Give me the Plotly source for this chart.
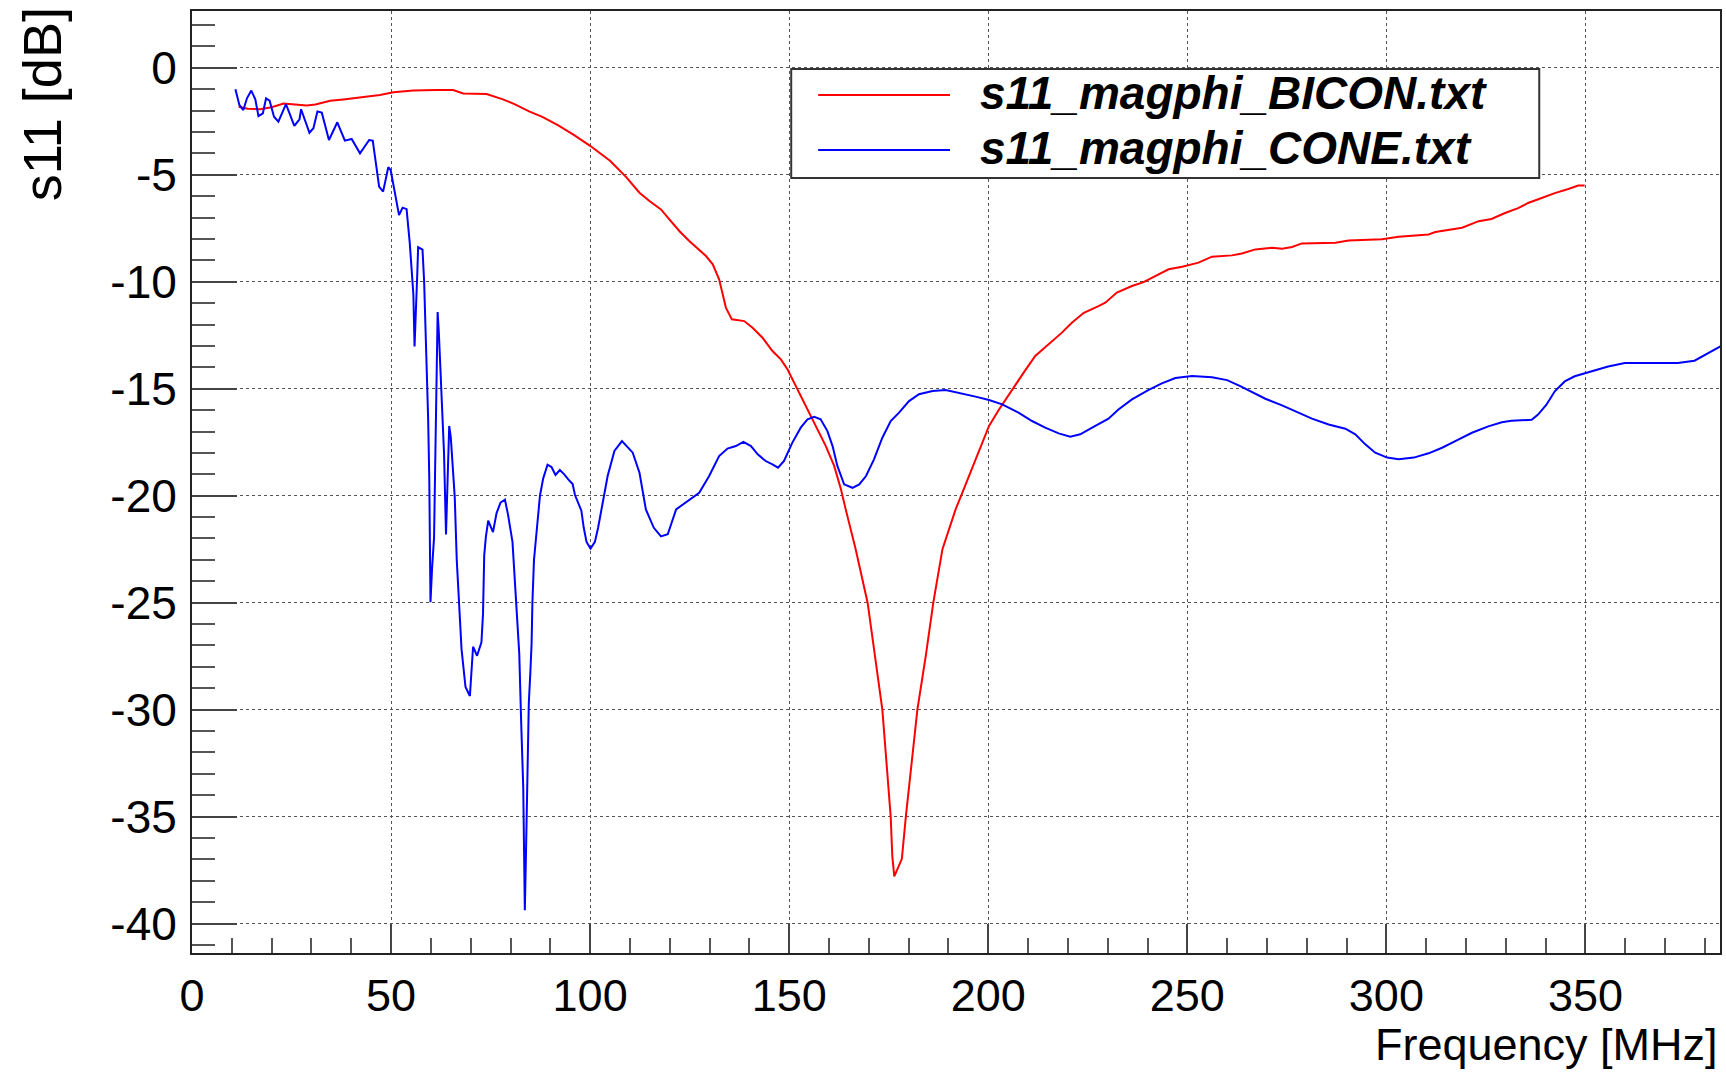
import plotly.graph_objects as go

# ---------------- data ----------------
bicon_freq = [11.7, 14, 17.1, 20, 23, 25.5, 28.8, 31, 34.7, 38, 41, 44, 47.2, 50.6, 55.6, 61.4,
              65.6, 68.1, 74, 78.1, 81, 84.8, 88, 92, 96, 100, 105, 109, 112.4, 114.9, 117.8,
              119.9, 122.4, 124.9, 127.4, 129.1, 130.8, 132.4, 133.3, 134.1, 135.6, 138.7, 140.8,
              143.3, 145.8, 147.9, 149.6, 151.7, 154.2, 156.7, 159.2, 161.3, 163.0, 164.2, 166.7,
              169.7, 171.3, 173.4, 175.5, 175.9, 176.4, 178.3, 179.3, 182.2, 184.3, 186.2, 188.5,
              191.8, 193.5, 196.8, 200.2, 202.7, 206.0, 208.9, 211.8, 215.2, 218.5, 221.0, 224.0,
              227.7, 229.4, 232.3, 236.1, 239.0, 242.0, 245.3, 248.7, 252.8, 256.2, 261.2, 263.7,
              267.1, 271.3, 273.8, 276.3, 278.8, 287.2, 290.5, 298.9, 303.1, 310.6, 312.3, 319.0,
              323.2, 326.4, 329.8, 333.1, 335.6, 339.0, 342.3, 345.7, 348.2, 349.8]
bicon_s11 = [-1.82, -1.92, -1.94, -1.85, -1.67, -1.72, -1.77, -1.72, -1.54, -1.48, -1.42, -1.33,
             -1.28, -1.15, -1.07, -1.04, -1.04, -1.20, -1.23, -1.48, -1.70, -2.05, -2.30, -2.70,
             -3.15, -3.65, -4.35, -5.10, -5.84, -6.23, -6.62, -7.09, -7.63, -8.10, -8.49, -8.80,
             -9.19, -9.89, -10.59, -11.21, -11.76, -11.84, -12.15, -12.62, -13.24, -13.63, -14.10,
             -14.88, -15.81, -16.74, -17.68, -18.61, -19.70, -20.64, -22.5, -25.0, -27.2, -30.0,
             -35.0, -36.85, -37.79, -36.97, -35.0, -30.0, -27.5, -25.0, -22.5, -20.64, -19.86,
             -18.30, -16.74, -15.97, -15.03, -14.25, -13.47, -12.93, -12.38, -11.92, -11.45,
             -11.14, -10.98, -10.51, -10.20, -10.02, -9.74, -9.42, -9.30, -9.11, -8.83, -8.77,
             -8.68, -8.49, -8.41, -8.46, -8.38, -8.21, -8.18, -8.07, -8.02, -7.90, -7.79, -7.68,
             -7.48, -7.17, -7.07, -6.79, -6.56, -6.32, -6.09, -5.86, -5.67, -5.51, -5.51]

cone_freq = [10.9, 11.9, 12.9, 13.8, 14.9, 15.9, 16.7, 17.8, 18.6, 19.5, 20.6, 21.7, 23.6, 25.7,
             27.0, 27.4, 29.5, 30.5, 31.5, 32.6, 34.4, 36.5, 38.4, 40.1, 42.2, 44.5, 45.4, 47.0,
             48.0, 49.3, 49.9, 52.0, 52.9, 53.9, 54.7, 55.2, 55.6, 55.9, 56.2, 56.6, 56.8, 57.9,
             58.3, 58.9, 59.3, 59.6, 59.9, 60.3, 60.8, 61.1, 61.4, 61.7, 62.0, 62.4, 62.9, 63.3,
             63.8, 64.2, 64.6, 65.0, 65.4, 66.0, 66.5, 67.3, 67.7, 68.7, 69.8, 70.6, 71.6, 72.7,
             73.1, 73.4, 73.8, 74.4, 75.6, 76.5, 77.5, 78.6, 79.4, 80.5, 81.3, 82.2, 82.7, 83.2,
             83.4, 83.6, 83.9, 84.2, 84.6, 85.0, 85.3, 85.5, 85.9, 86.3, 86.8, 87.4, 88.2, 89.3,
             90.3, 91.3, 92.4, 93.5, 94.5, 95.6, 96.2, 97.0, 97.8, 98.4, 99.1, 100.1, 101.2,
             102.0, 102.8, 104.4, 106.1, 108.0, 110.7, 112.4, 114.0, 116.0, 117.8, 119.5, 121.6,
             124.5, 127.4, 129.9, 132.4, 134.5, 136.6, 138.5, 140.4, 142.1, 144.1, 145.8, 147.2,
             148.7, 150.8, 152.9, 154.6, 156.3, 157.9, 159.6, 160.9, 162.1, 163.8, 165.9, 167.6,
             169.3, 171.3, 173.4, 175.5, 177.6, 180.1, 182.6, 186.0, 189.3, 192.6, 196.8, 200.2,
             203.5, 207.6, 211.0, 214.3, 217.7, 220.6, 223.1, 226.9, 230.2, 232.7, 236.1, 240.3,
             243.6, 247.0, 251.2, 256.2, 260.0, 263.3, 266.2, 269.6, 273.8, 278.0, 281.3, 285.5,
             289.7, 292.2, 294.7, 297.2, 300.2, 303.1, 306.9, 310.6, 314.0, 317.3, 321.5, 325.6,
             329.0, 331.4, 336.5, 338.1, 340.2, 342.3, 344.8, 347.3, 350.0, 352.3, 355.7, 359.9,
             373.2, 377.4, 380.8, 383.9]
cone_s11 = [-1.01, -1.74, -1.98, -1.43, -1.07, -1.48, -2.26, -2.13, -1.43, -1.54, -2.29, -2.52,
            -1.70, -2.72, -2.41, -1.94, -3.04, -2.83, -2.05, -2.10, -3.38, -2.55, -3.41, -3.33,
            -4.00, -3.38, -3.41, -5.56, -5.79, -4.65, -4.78, -6.89, -6.54, -6.61, -8.20, -9.33,
            -10.58, -13.03, -11.84, -9.54, -8.39, -8.50, -9.96, -13.40, -16.30, -19.20, -24.98,
            -23.40, -21.95, -18.40, -14.86, -11.42, -12.36, -14.13, -16.10, -17.99, -21.81,
            -19.45, -16.74, -17.26, -18.41, -20.08, -23.00, -25.92, -27.17, -28.94, -29.36,
            -27.06, -27.48, -26.85, -25.50, -22.79, -21.95, -21.16, -21.70, -20.81, -20.32,
            -20.18, -20.91, -22.16, -24.66, -27.38, -30.71, -33.63, -36.55, -39.37, -36.60,
            -33.70, -29.70, -28.20, -26.90, -25.00, -23.00, -22.20, -21.10, -20.00, -19.20,
            -18.55, -18.66, -19.03, -18.80, -19.00, -19.24, -19.45, -19.97, -20.30, -20.70,
            -21.50, -22.16, -22.47, -22.16, -21.50, -20.64, -19.08, -17.91, -17.45, -17.99,
            -18.93, -20.64, -21.50, -21.90, -21.80, -20.64, -20.25, -19.86, -19.08, -18.15,
            -17.80, -17.68, -17.49, -17.68, -18.07, -18.38, -18.54, -18.69, -18.38, -17.52,
            -16.82, -16.43, -16.31, -16.43, -16.98, -17.68, -18.61, -19.47, -19.63, -19.47,
            -19.08, -18.30, -17.29, -16.51, -16.12, -15.58, -15.26, -15.11, -15.06, -15.19,
            -15.37, -15.53, -15.73, -16.12, -16.51, -16.82, -17.09, -17.24, -17.13, -16.74,
            -16.40, -15.97, -15.50, -15.06, -14.75, -14.50, -14.41, -14.47, -14.60, -14.88,
            -15.16, -15.47, -15.78, -16.12, -16.40, -16.67, -16.87, -17.13, -17.60, -17.99,
            -18.22, -18.30, -18.22, -18.02, -17.76, -17.45, -17.06, -16.76, -16.57, -16.50,
            -16.45, -16.21, -15.75, -15.12, -14.66, -14.42, -14.27, -14.14, -13.96, -13.80,
            -13.80, -13.69, -13.33, -13.02]

series_names = ["s11_magphi_BICON.txt", "s11_magphi_CONE.txt"]
series_colors = ["#ff0000", "#0000ff"]

x_tick_vals = [0, 50, 100, 150, 200, 250, 300, 350]
x_tick_text = ["0", "50", "100", "150", "200", "250", "300", "350"]
y_tick_vals = [-40, -35, -30, -25, -20, -15, -10, -5, 0]
y_tick_text = ["-40", "-35", "-30", "-25", "-20", "-15", "-10", "-5", "0"]

x_title = "Frequency [MHz]"
y_title = "s11 [dB]"

# ---------------- figure ----------------
SANS = "Liberation Sans, Arial, Helvetica, sans-serif"

fig = go.Figure()
for fx, fy, name, col in [(bicon_freq, bicon_s11, series_names[0], series_colors[0]),
                          (cone_freq, cone_s11, series_names[1], series_colors[1])]:
    fig.add_trace(go.Scatter(x=fx, y=fy, mode="lines", name=name,
                             line=dict(color=col, width=2), showlegend=False))

W, H = 1726, 1072
L, R, T, B = 192, 4, 11, 119

fig.update_layout(
    width=W, height=H,
    margin=dict(l=L, r=R, t=T, b=B, pad=0),
    paper_bgcolor="white", plot_bgcolor="white",
    font=dict(family=SANS, color="black"),
)

fig.update_xaxes(
    range=[0, 383.8], tickvals=x_tick_vals, ticktext=x_tick_text,
    ticks="inside", ticklen=29, tickwidth=2, tickcolor="#444",
    minor=dict(dtick=10, tick0=0, ticks="inside", ticklen=15, tickwidth=2, tickcolor="#555",
               showgrid=False),
    showgrid=True, gridcolor="#555", gridwidth=1, griddash="dot",
    showline=True, linecolor="#222", linewidth=2, mirror=True,
    zeroline=False, tickfont=dict(family=SANS, size=45, color="black"),
    ticklabelstandoff=2,
)
fig.update_yaxes(
    range=[-41.37, 2.65], tickvals=y_tick_vals, ticktext=y_tick_text,
    ticks="inside", ticklen=45, tickwidth=2, tickcolor="#444",
    minor=dict(dtick=1, tick0=0, ticks="inside", ticklen=23, tickwidth=2, tickcolor="#555",
               showgrid=False),
    showgrid=True, gridcolor="#555", gridwidth=1, griddash="dot",
    showline=True, linecolor="#222", linewidth=2, mirror=True,
    zeroline=False, tickfont=dict(family=SANS, size=46, color="black"),
    ticklabelstandoff=4,
)

pw, ph = W - L - R, H - T - B


def px(xpix):
    return (xpix - L) / pw


def py(ypix):
    return (H - B - ypix) / ph


# axis titles (ROOT style: right / top aligned)
fig.add_annotation(text=x_title, xref="paper", yref="paper", x=1.0, y=py(1044),
                   xanchor="right", yanchor="middle", showarrow=False,
                   font=dict(family=SANS, size=45, color="black"))
fig.add_annotation(text=y_title, xref="paper", yref="paper", x=px(42), y=py(5),
                   xanchor="center", yanchor="top", textangle=-90, showarrow=False,
                   font=dict(family=SANS, size=54, color="black"))

# legend box (ROOT TLegend look)
fig.add_shape(type="rect", xref="paper", yref="paper",
              x0=px(792), x1=px(1541), y0=py(178), y1=py(69),
              line=dict(color="#333", width=2), fillcolor="white", layer="above")
for i, (name, col) in enumerate(zip(series_names, series_colors)):
    yc = [95, 150][i]
    fig.add_shape(type="line", xref="paper", yref="paper",
                  x0=px(819), x1=px(951), y0=py(yc), y1=py(yc),
                  line=dict(color=col, width=2), layer="above")
    fig.add_annotation(text="<b><i>%s</i></b>" % name, xref="paper", yref="paper",
                       x=px(979), y=py(yc - 2), xanchor="left", yanchor="middle",
                       showarrow=False, font=dict(family=SANS, size=46, color="black"))

fig.write_html("out.html")
